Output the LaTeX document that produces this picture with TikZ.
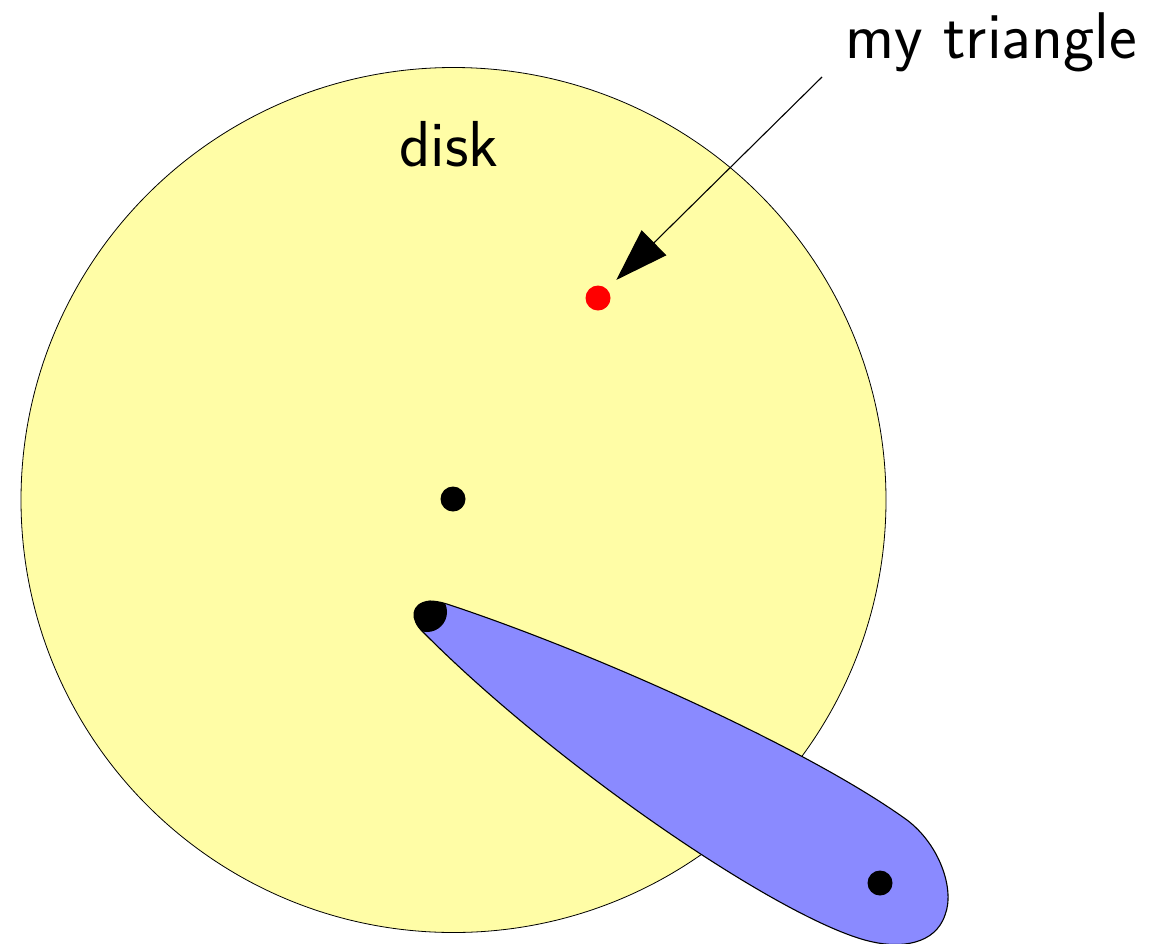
\documentclass[tikz,border=0pt]{standalone}
\usetikzlibrary{arrows.meta}
\definecolor{diskyellow}{RGB}{255,253,166}
\definecolor{blobblue}{RGB}{138,138,255}
\tikzset{
  disk/.style={fill=diskyellow,draw=black,line width=0.8pt},
  blob/.style={fill=blobblue,draw=black,line width=1.1pt},
  dot/.style={circle,fill=black,inner sep=0pt,minimum size=25pt},
  reddot/.style={circle,fill=red,inner sep=0pt,minimum size=25pt},
  pointer/.style={line width=1.1pt,-{Triangle[length=53pt,width=35pt]}},
  label/.style={inner sep=0pt,font=\sffamily\fontsize{66}{74}\selectfont},
}
\def\blobpath{(450,605) .. controls (600,655) and (810,750) .. (907,820)
 .. controls (940,845) and (955,890) .. (945,915)
 .. controls (935,945) and (900,948) .. (873,942)
 .. controls (790,925) and (560,770) .. (423,632)
 .. controls (410,620) and (410,603) .. (430,601)
 .. controls (437,601) and (444,603) .. (450,605) -- cycle}
\begin{document}
\begin{tikzpicture}[x=1pt,y=-1pt]
\useasboundingbox (0,0) rectangle (1173,943);
\draw[disk] (453.5,500) circle (432.5);
\node[label,anchor=base west,font=\sffamily\fontsize{65}{72}\selectfont] (disklabel) at (399,166) {disk};
\draw[blob] \blobpath;
\begin{scope}
  \clip \blobpath;
  \fill (427,612) circle (20);
\end{scope}
\node[dot] (center) at (453,499) {};
\node[dot] (tail) at (880,883) {};
\node[reddot] (red) at (598,298) {};
\node[label,anchor=base west] (mylabel) at (845,58) {my triangle};
\coordinate (arrowstart) at (822,77);
\draw[pointer,shorten >=13pt] (arrowstart) -- (red);
\end{tikzpicture}
\end{document}
